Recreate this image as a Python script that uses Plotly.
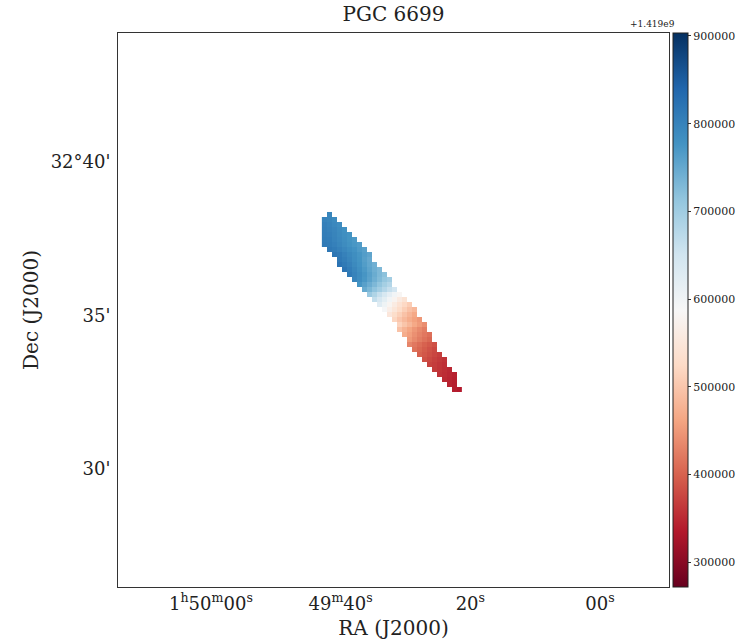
import plotly.graph_objects as go

# ---------------- data ----------------
TITLE = "PGC 6699"
OFFSET_LABEL = "+1.419e9"

# velocity-field image grid (pixel centres), RA in seconds after 1h49m00s, Dec in arcmin after 32 deg
RA0_SEC = 42.51
PIX_RA_SEC = 0.77
DEC0_ARCMIN = 38.29
PIX_DEC_ARCMIN = 0.163
N_COLS = 28
N_ROWS = 36

# first filled column for each image row (top to bottom)
row_start_col = [1, 0, 0, 0, 0, 0, 0, 1, 2, 3, 3, 4, 5, 6, 7, 8, 9, 10,
                 11, 12, 13, 14, 15, 15, 16, 17, 17, 18, 19, 20, 21, 22, 23, 24, 25, 26]

# pixel values (frequency minus 1.419e9, in kHz) for each image row, left to right
row_values_khz = [
    [795],
    [800, 795, 788],
    [805, 800, 792, 785],
    [806, 802, 796, 788, 780],
    [808, 805, 798, 790, 782, 776],
    [810, 808, 800, 792, 784, 776, 770],
    [812, 810, 803, 795, 787, 779, 772, 766],
    [815, 810, 802, 794, 786, 778, 768, 760],
    [818, 812, 802, 793, 784, 775, 764, 755],
    [815, 806, 796, 786, 776, 762, 750],
    [822, 812, 802, 790, 778, 765, 752, 740],
    [820, 808, 795, 782, 770, 756, 742, 730],
    [812, 800, 787, 774, 760, 746, 730, 718],
    [798, 785, 772, 758, 742, 727, 710, 698],
    [775, 760, 745, 730, 713, 695, 680],
    [748, 732, 715, 698, 680, 662, 646],
    [705, 685, 662, 640, 618, 598, 582],
    [665, 642, 620, 598, 578, 558, 542],
    [625, 602, 580, 560, 540, 522, 508],
    [590, 568, 548, 528, 510, 494, 482],
    [550, 530, 512, 495, 480, 466],
    [520, 500, 485, 470, 458, 448],
    [515, 498, 482, 466, 452, 440],
    [495, 478, 462, 448, 436, 425],
    [470, 456, 442, 430, 420, 412],
    [450, 436, 424, 414, 405],
    [432, 420, 410, 400, 392, 385],
    [415, 404, 394, 386, 378],
    [400, 390, 382, 375, 368],
    [385, 377, 370, 364, 358],
    [372, 366, 360, 355],
    [365, 359, 354, 349],
    [358, 352, 347, 343],
    [350, 345, 341],
    [345, 340],
    [340, 336],
]

# colour limits (Hz offset)
Z_MIN = 271500
Z_MAX = 903400

# axis ticks
ra_tick_vals = [60, 40, 20, 0]
ra_tick_text = ["1<sup>h</sup>50<sup>m</sup>00<sup>s</sup>", "49<sup>m</sup>40<sup>s</sup>",
                "20<sup>s</sup>", "00<sup>s</sup>"]
ra_range = [74.33, -10.63]
dec_tick_vals = [40, 35, 30]
dec_tick_text = ["32°40'", "35'", "30'"]
dec_range = [26.16, 44.20]
cbar_tick_vals = [300000, 400000, 500000, 600000, 700000, 800000, 900000]

# matplotlib RdBu
rdbu = ["#67001f", "#b2182b", "#d6604d", "#f4a582", "#fddbc7", "#f7f7f7",
        "#d1e5f0", "#92c5de", "#4393c3", "#2166ac", "#053061"]

# ---------------- build image ----------------
z = [[None] * N_COLS for _ in range(N_ROWS)]
for i, (c0, vals) in enumerate(zip(row_start_col, row_values_khz)):
    for k, v in enumerate(vals):
        z[i][c0 + k] = v * 1000

x_centres = [RA0_SEC - j * PIX_RA_SEC for j in range(N_COLS)]
y_centres = [DEC0_ARCMIN - i * PIX_DEC_ARCMIN for i in range(N_ROWS)]

colorscale = [[k / (len(rdbu) - 1), c] for k, c in enumerate(rdbu)]

FONT = "DejaVu Serif"
W, H = 736, 641

fig = go.Figure(go.Heatmap(
    z=z, x=x_centres, y=y_centres,
    colorscale=colorscale, zmin=Z_MIN, zmax=Z_MAX,
    zsmooth=False, hoverongaps=False,
    colorbar=dict(
        x=1.0073, xanchor="left", xref="paper",
        y=0.5, yanchor="middle", len=1.0, lenmode="fraction",
        thickness=15, thicknessmode="pixels",
        outlinecolor="#222", outlinewidth=1,
        tickvals=cbar_tick_vals, tickformat="d",
        ticks="outside", ticklen=3, tickcolor="#333",
        tickfont=dict(family=FONT, size=11, color="#222"),
        ypad=0, xpad=0,
    ),
))

fig.update_layout(
    width=W, height=H,
    margin=dict(l=118, r=67, t=33, b=54, autoexpand=False),
    paper_bgcolor="white", plot_bgcolor="white",
    font=dict(family=FONT, color="#222"),
    title=dict(text=TITLE, x=0.5, xref="paper", xanchor="center",
               y=1 - 14 / H, yref="container", yanchor="middle",
               font=dict(family=FONT, size=20, color="#222")),
    annotations=[dict(text=OFFSET_LABEL, xref="paper", yref="paper",
                      x=1.014, y=1.0, xanchor="right", yanchor="bottom",
                      yshift=2, showarrow=False,
                      font=dict(family=FONT, size=9, color="#222"))],
)

fig.update_xaxes(
    range=ra_range, tickvals=ra_tick_vals, ticktext=ra_tick_text,
    showgrid=False, zeroline=False, ticks="",
    showline=True, mirror=True, linecolor="#333", linewidth=1,
    tickfont=dict(family=FONT, size=18, color="#222"),
    title=dict(text="RA (J2000)", font=dict(family=FONT, size=20, color="#222"), standoff=8),
)
fig.update_yaxes(
    range=dec_range, tickvals=dec_tick_vals, ticktext=dec_tick_text,
    showgrid=False, zeroline=False, ticks="",
    showline=True, mirror=True, linecolor="#333", linewidth=1,
    tickfont=dict(family=FONT, size=18, color="#222"),
    ticklabelstandoff=3,
    title=dict(text="Dec (J2000)", font=dict(family=FONT, size=20, color="#222"), standoff=6),
)

# remove the page's default body margin so the figure fills the window exactly
fig.write_html("out.html", config={"displayModeBar": False},
               post_script="document.body.style.margin='0';document.body.style.overflow='hidden';")
